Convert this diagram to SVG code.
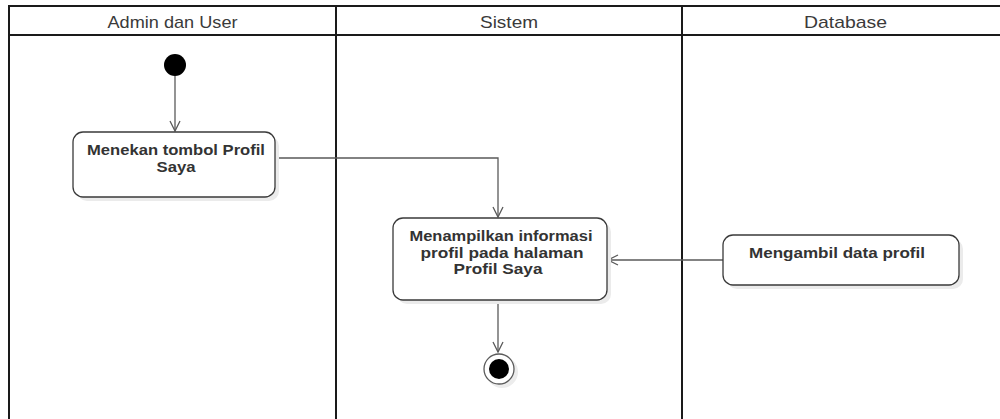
<svg xmlns="http://www.w3.org/2000/svg" width="1000" height="419" viewBox="0 0 1000 419">
  <style>
    .lane { fill: none; stroke: #1a1a1a; stroke-width: 2; }
    .head { font-family: "Liberation Sans", Arial, sans-serif; font-size: 17px; fill: #3a3a3a; text-anchor: middle; }
    .act { fill: #ffffff; stroke: #3a3a3a; stroke-width: 1.3; }
    .shadow { fill: #ebebeb; }
    .label { font-family: "Liberation Sans", Arial, sans-serif; font-size: 14.5px; font-weight: bold; fill: #333333; text-anchor: middle; }
    .flow { fill: none; stroke: #5a5a5a; stroke-width: 1.3; }
  </style>
  <defs>
    <marker id="open" markerWidth="14" markerHeight="14" refX="11" refY="6" orient="auto" markerUnits="userSpaceOnUse">
      <path d="M1,1 L11,6 L1,11" fill="none" stroke="#5a5a5a" stroke-width="1.3"/>
    </marker>
  </defs>
  <rect width="1000" height="419" fill="#ffffff"/>

  <!-- swimlanes (the pool continues past the right edge) -->
  <g id="lanes">
    <path class="lane" d="M9,420 V6 H1010"/>
    <line class="lane" x1="9" y1="35" x2="1010" y2="35"/>
    <line class="lane" x1="336" y1="6" x2="336" y2="420"/>
    <line class="lane" x1="682" y1="6" x2="682" y2="420"/>
    <text class="head" x="172.5" y="28" textLength="130" lengthAdjust="spacingAndGlyphs">Admin dan User</text>
    <text class="head" x="509" y="28" textLength="58" lengthAdjust="spacingAndGlyphs">Sistem</text>
    <text class="head" x="845.5" y="28" textLength="83" lengthAdjust="spacingAndGlyphs">Database</text>
  </g>

  <!-- connectors -->
  <g id="connectors">
    <line class="flow" x1="175" y1="76" x2="175" y2="131" marker-end="url(#open)"/>
    <path class="flow" d="M275,158 H498 V217" marker-end="url(#open)"/>
    <line class="flow" x1="723" y1="260" x2="608" y2="260" marker-end="url(#open)"/>
    <line class="flow" x1="498" y1="300" x2="498" y2="352" marker-end="url(#open)"/>
  </g>

  <g id="start">
    <circle cx="175" cy="65" r="11" fill="#000000"/>
  </g>

  <g id="act-tekan">
    <rect class="shadow" x="77" y="136" width="202" height="65" rx="10"/>
    <rect class="act" x="73" y="132" width="202" height="65" rx="10"/>
    <text class="label" x="176" y="155" textLength="178" lengthAdjust="spacingAndGlyphs">Menekan tombol Profil</text>
    <text class="label" x="176" y="171.5" textLength="39" lengthAdjust="spacingAndGlyphs">Saya</text>
  </g>

  <g id="act-tampil">
    <rect class="shadow" x="397" y="222" width="214" height="82" rx="10"/>
    <rect class="act" x="393" y="218" width="214" height="82" rx="10"/>
    <text class="label" x="501" y="241" textLength="183" lengthAdjust="spacingAndGlyphs">Menampilkan informasi</text>
    <text class="label" x="502" y="257.5" textLength="163" lengthAdjust="spacingAndGlyphs">profil pada halaman</text>
    <text class="label" x="498" y="274" textLength="89" lengthAdjust="spacingAndGlyphs">Profil Saya</text>
  </g>

  <g id="act-ambil">
    <rect class="shadow" x="727" y="239" width="236" height="50" rx="10"/>
    <rect class="act" x="723" y="235" width="236" height="50" rx="10"/>
    <text class="label" x="837" y="258" textLength="176" lengthAdjust="spacingAndGlyphs">Mengambil data profil</text>
  </g>

  <g id="end">
    <circle cx="502" cy="372" r="16" fill="#ececec"/>
    <circle cx="499" cy="369" r="15" fill="#ffffff" stroke="#5a5a5a" stroke-width="1.3"/>
    <circle cx="499" cy="369" r="10" fill="#000000"/>
  </g>
</svg>
